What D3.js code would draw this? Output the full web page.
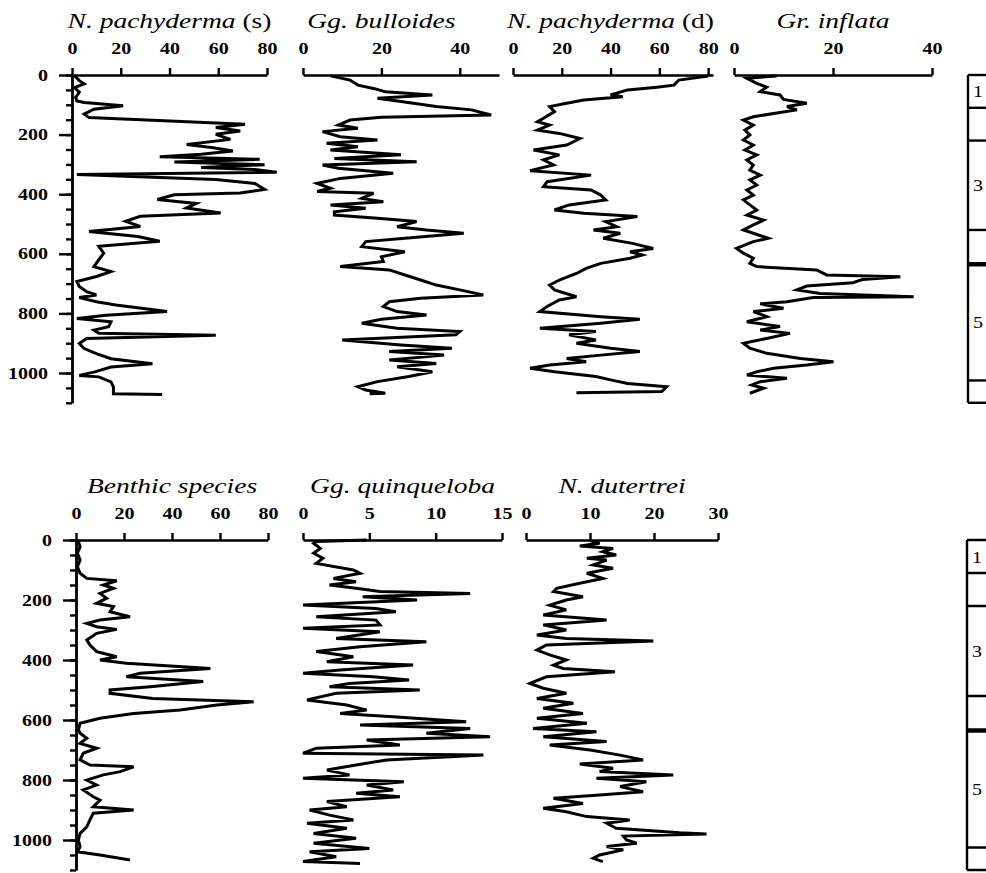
<!DOCTYPE html>
<html>
<head>
<meta charset="utf-8">
<script src="https://cdn.jsdelivr.net/npm/d3@7"></script>
<style>
body { margin: 0; background: #fff; }
svg text { font-family: "Liberation Serif", "Times New Roman", serif; fill: #000; }
.tick text { font-weight: bold; font-size: 16px; }
.axis path, .axis line { stroke: #000; stroke-width: 2.4; }
.zone { stroke: #000; stroke-width: 2.4; }
.series { fill: none; stroke: #000; stroke-width: 3; }
</style>
</head>
<body>
<div id="main_div"></div>
<script>
// depth (cm) , percentage pairs
var npachS = [[2,1],[19,3],[30,5],[42,1],[58,3],[75,1.5],[87,2],[92,5],[103,21],[115,9],[131,5],[143,7],[165,71],[176,59],[188,69],[199,59],[216,65],[233,47],[244,58],[255,66],[266,53],[274,36],[283,77],[292,42],[301,79],[310,53],[317,75],[326,84],[334,2],[351,59],[364,75],[384,79],[396,69],[402,42],[418,35],[431,51],[446,47],[463,61],[474,28],[491,22],[508,28],[525,7],[542,27],[558,36],[575,11],[598,13],[620,11],[643,9],[660,16],[676,10],[693,2],[710,3],[727,6],[738,10],[747,3],[761,10],[772,18],[794,39],[806,14],[817,2],[828,16],[845,15],[856,9],[867,11],[873,59],[884,6],[901,3],[918,5],[935,10],[952,16],[969,33],[980,16],[997,9],[1008,3],[1013,11],[1030,16],[1047,17],[1070,17],[1072,37]];
var bulloides = [[3,7],[17,12],[34,14],[45,18],[56,21],[67,33],[78,19],[89,25],[106,34],[117,43],[134,48],[142,20],[151,12],[168,9],[179,14],[190,5],[207,9.5],[218,19],[229,6],[241,14],[252,7],[268,25],[280,8],[291,29],[302,5],[313,9],[330,23],[347,9.5],[364,3.6],[380,7],[391,3.6],[397,18],[414,15],[425,20.5],[436,7],[447,16],[459,8],[470,8],[481,19],[492,29],[509,24],[520,31.5],[531,41],[548,26],[559,16],[576,15],[593,26],[610,20],[626,20.5],[643,9.5],[654,22],[671,26],[688,30],[705,34],[721,40],[738,46],[749,30],[761,22],[777,20.5],[794,24],[805,31.5],[820,20],[833,15],[850,24],[861,40],[872,39],[889,10],[906,25],[917,38],[928,22],[940,36],[956,22],[968,34],[979,24],[996,33],[1012,27],[1029,19],[1046,14],[1057,16],[1068,21],[1070,17]];
var npachD = [[3,80],[17,68],[34,66],[41,59],[50,47],[67,40],[73,45],[84,29],[95,22],[106,15],[123,17],[145,12.5],[157,10],[168,15],[185,10],[196,19],[213,27.5],[235,22],[252,8.4],[268,19],[285,12.5],[302,16.6],[321,7],[336,32],[358,14],[375,12.5],[386,32],[403,36],[419,38],[436,23],[453,17],[464,29],[475,51],[492,38],[509,42.5],[520,33],[531,44],[548,37],[565,49],[582,57.5],[593,48],[604,53],[615,48],[632,36],[649,30],[666,26],[688,19],[705,15],[721,17],[744,26],[755,19],[777,14],[794,11],[811,36],[820,52],[833,36],[850,11],[861,34],[872,23],[889,34],[900,26],[917,40],[928,52],[940,36],[951,22],[962,30],[973,15],[984,7],[996,17],[1012,34],[1023,40],[1035,47],[1046,63],[1062,61],[1066,26]];
var inflata = [[3,8.6],[11,2.6],[28,4.6],[41,6.6],[56,5.3],[67,9.3],[82,10],[95,14.7],[106,10.7],[117,12.7],[126,9.3],[140,3.9],[151,1.9],[168,3.9],[185,2.2],[201,3.2],[218,1.9],[235,3.9],[252,2.2],[268,4.6],[285,2.6],[302,3.9],[319,3.2],[336,5.3],[352,3.2],[369,4.6],[386,2.6],[403,3.9],[419,1.9],[436,3.2],[453,4.6],[470,2.6],[487,6],[503,3.9],[520,1.9],[531,3.9],[548,6.9],[559,3.9],[582,0.5],[598,1.9],[615,3.9],[632,3.2],[643,4.6],[654,16.7],[671,18.7],[677,33.6],[686,26],[697,24],[708,14.7],[721,12.7],[733,17.4],[744,36.3],[747,16],[761,10.7],[768,5.3],[783,10],[794,3.9],[811,6.6],[828,2.6],[844,9.3],[856,5.3],[867,11.3],[884,6.6],[900,1.9],[917,3.2],[934,6.6],[951,13.4],[962,20.1],[973,14.7],[984,8],[996,4.6],[1007,2.6],[1018,10.7],[1029,5.3],[1040,3.6],[1051,6],[1068,3.2]];
var benthic = [[0,1.5],[6,1],[22,1.7],[44,0.6],[67,1.7],[89,0.6],[111,1.7],[128,4.5],[136,17],[150,11.4],[161,15.6],[178,10],[194,12.8],[211,8.6],[222,15.6],[239,14.2],[256,22.5],[267,10],[278,4.5],[289,8.6],[298,17],[311,8.6],[333,4.5],[350,5.8],[372,8.6],[389,17],[400,10],[411,21],[428,56],[444,26.7],[456,21],[472,53],[489,31],[500,14.2],[511,14.2],[528,32],[539,74],[550,58.7],[567,43.4],[578,24],[594,10],[611,1.7],[633,1],[644,1.7],[661,4.5],[678,1.7],[694,8.6],[711,3],[733,1.7],[750,5.8],[756,24],[772,18.4],[783,11.4],[800,4.5],[817,8.6],[833,3],[856,7.2],[867,10],[889,7.2],[900,24],[911,7.2],[933,5.8],[956,4.5],[978,1.7],[1000,1],[1022,1.7],[1039,0.6],[1050,10],[1067,22.5]];
var quinqueloba = [[0,4.8],[5,1],[11,0.8],[28,1.3],[44,0.8],[61,1.5],[78,1],[100,3.8],[111,4.3],[128,2.3],[139,4],[150,2],[161,4],[172,5.8],[178,12.6],[189,4.5],[200,8.6],[217,0],[228,5.5],[239,7],[256,1],[267,5.5],[283,5.8],[294,0],[306,5.8],[328,2.5],[339,9.3],[356,4.3],[372,1],[389,3.8],[406,1.8],[417,8.3],[433,2.8],[444,0],[456,5.3],[467,8],[478,3.5],[489,2],[500,8.8],[511,2.5],[533,0.3],[550,3.3],[567,4.8],[578,2.8],[589,6.8],[606,12.3],[617,4.3],[628,12.6],[644,9.3],[656,14.1],[667,4.8],[683,7.3],[694,1],[711,0],[717,13.6],[733,6.3],[750,4],[767,1.8],[783,3.5],[794,0],[806,7.6],[817,4.8],[833,6.8],[844,4],[856,7.3],[872,1.8],[889,3.3],[900,0.5],[917,2],[933,3.8],[944,0.3],[961,3.3],[978,0.8],[994,4],[1011,0.8],[1028,5],[1039,0.5],[1056,2.5],[1072,0],[1078,4.3]];
var dutertrei = [[2,10],[11,11.5],[20,8.4],[28,13.6],[39,12],[50,14.1],[61,9.5],[67,12.6],[83,10.5],[94,13.6],[111,9.5],[128,12],[144,8.4],[161,4.8],[172,4.3],[189,8.9],[200,6.3],[217,3.7],[233,6.3],[250,2.7],[267,12.6],[283,2.7],[300,6.3],[317,1.7],[328,6.3],[337,19.9],[350,3.2],[367,1.7],[383,3.7],[400,6.3],[417,4.3],[428,5.8],[439,13.9],[456,3.2],[478,0.6],[494,2.7],[511,6.3],[528,1.7],[544,7.4],[561,2.7],[578,8.9],[594,1.7],[611,9.5],[628,1.1],[639,11],[656,2.7],[672,12.6],[683,3.7],[700,10],[717,14.7],[733,18.3],[747,8.4],[761,13.6],[772,11.5],[783,23],[794,11],[806,18.8],[822,14.7],[839,18.3],[850,11.5],[861,4.3],[878,8.9],[894,2.7],[906,6.3],[922,9.5],[933,16.2],[944,12.6],[961,14.1],[976,24],[980,28.2],[987,15.2],[1000,15.7],[1011,17.3],[1022,12.6],[1033,15.2],[1050,11.5],[1061,10.5],[1072,12]];

var topTitles = [["N. pachyderma", " (s)"], ["Gg. bulloides", ""], ["N. pachyderma", " (d)"], ["Gr. inflata", ""]];
var bottomTitles = [["Benthic species", ""], ["Gg. quinqueloba", ""], ["N. dutertrei", ""]];
var topTicks = [[0, 20, 40, 60, 80], [0, 20, 40], [0, 20, 40, 60, 80], [0, 20, 40]];
var bottomTicks = [[0, 20, 40, 60, 80], [0, 5, 10, 15], [0, 10, 20, 30]];
var topMax = [80, 50, 82, 40];
var bottomMax = [80, 15, 30];
var depthTicks = [0, 200, 400, 600, 800, 1000];
var depthMinor = d3.range(0, 1101, 50);
var zoneBounds = [0, 110, 220, 520, 635, 1025, 1100];
var zoneLabels = ["1", "", "3", "", "5", ""];

var sx = 1.25; // the scanned figure is stretched sideways

var svg = d3.select("#main_div").append("svg").attr("width", 986).attr("height", 873);

function stretch(sel) {
    sel.each(function() {
        var t = d3.select(this);
        var x = +t.attr("x") || 0;
        t.attr("x", x / sx).attr("transform", "scale(" + sx + ",1)");
    });
}

function drawRow(rowTop, rowBottom, xLeft, series, titles, ticks, maxes, zoneX) {
    var y_scale = d3.scaleLinear().domain([0, 1100]).range([rowTop, rowBottom]);

    series.forEach(function(data, i) {
        var x_scale = d3.scaleLinear().domain([0, maxes[i]]).range([xLeft[i][0], xLeft[i][1]]);
        var g_x = svg.append("g").attr("class", "axis")
            .attr("transform", "translate(0," + rowTop + ")")
            .call(d3.axisTop(x_scale).tickValues(ticks[i]).tickSize(7).tickSizeOuter(0).tickPadding(14));
        g_x.attr("font-family", null).attr("font-size", null);
        stretch(g_x.selectAll(".tick text"));

        var tl = ticks[i];
        var cx = x_scale((tl[0] + tl[tl.length - 1]) / 2);
        var t = svg.append("text")
            .attr("transform", "translate(" + cx + "," + (rowTop - 47) + ") scale(" + sx + ",1)")
            .attr("text-anchor", "middle").attr("font-size", 22);
        t.append("tspan").attr("font-style", "italic").text(titles[i][0]);
        if (titles[i][1]) t.append("tspan").text(titles[i][1]);

        var line = d3.line()
            .x(function(d) { return x_scale(d[1]); })
            .y(function(d) { return y_scale(d[0]); });
        svg.append("path").datum(data).attr("class", "series").attr("d", line);
    });

    // depth axis on the first panel only
    var ax = xLeft[0][0];
    svg.append("g").attr("class", "axis").attr("transform", "translate(" + ax + ",0)")
        .call(d3.axisLeft(y_scale).tickValues(depthMinor).tickSize(6).tickSizeOuter(0).tickFormat(""));
    var g_y = svg.append("g").attr("class", "axis").attr("transform", "translate(" + ax + ",0)")
        .call(d3.axisLeft(y_scale).tickValues(depthTicks).tickSize(13).tickSizeOuter(0)
            .tickPadding(11).tickFormat(d3.format("d")));
    g_y.attr("font-family", null).attr("font-size", null);
    stretch(g_y.selectAll(".tick text"));

    // isotope stage column
    var z = svg.append("g");
    z.append("line").attr("class", "zone")
        .attr("x1", zoneX).attr("x2", zoneX)
        .attr("y1", y_scale(zoneBounds[0])).attr("y2", y_scale(zoneBounds[zoneBounds.length - 1]));
    z.selectAll(".zb").data(zoneBounds).enter().append("line").attr("class", "zone")
        .attr("x1", zoneX).attr("x2", 1000)
        .attr("y1", function(d) { return y_scale(d); })
        .attr("y2", function(d) { return y_scale(d); })
        .style("stroke-width", function(d) { return d === 635 ? 4.5 : 2.4; });
    z.selectAll(".zl").data(zoneLabels).enter().append("text")
        .attr("font-size", 16)
        .attr("transform", function(d, i) {
            var ym = y_scale((zoneBounds[i] + zoneBounds[i + 1]) / 2) + 6;
            return "translate(" + (zoneX + 5) + "," + ym + ") scale(" + sx + ",1)";
        })
        .text(function(d) { return d; });
}

drawRow(75, 402.8, [[72, 267], [303, 499], [513, 713], [734, 932]],
    [npachS, bulloides, npachD, inflata], topTitles, topTicks, topMax, 968);
drawRow(540, 870, [[76, 268], [303, 502], [526, 718]],
    [benthic, quinqueloba, dutertrei], bottomTitles, bottomTicks, bottomMax, 967);
</script>
</body>
</html>
